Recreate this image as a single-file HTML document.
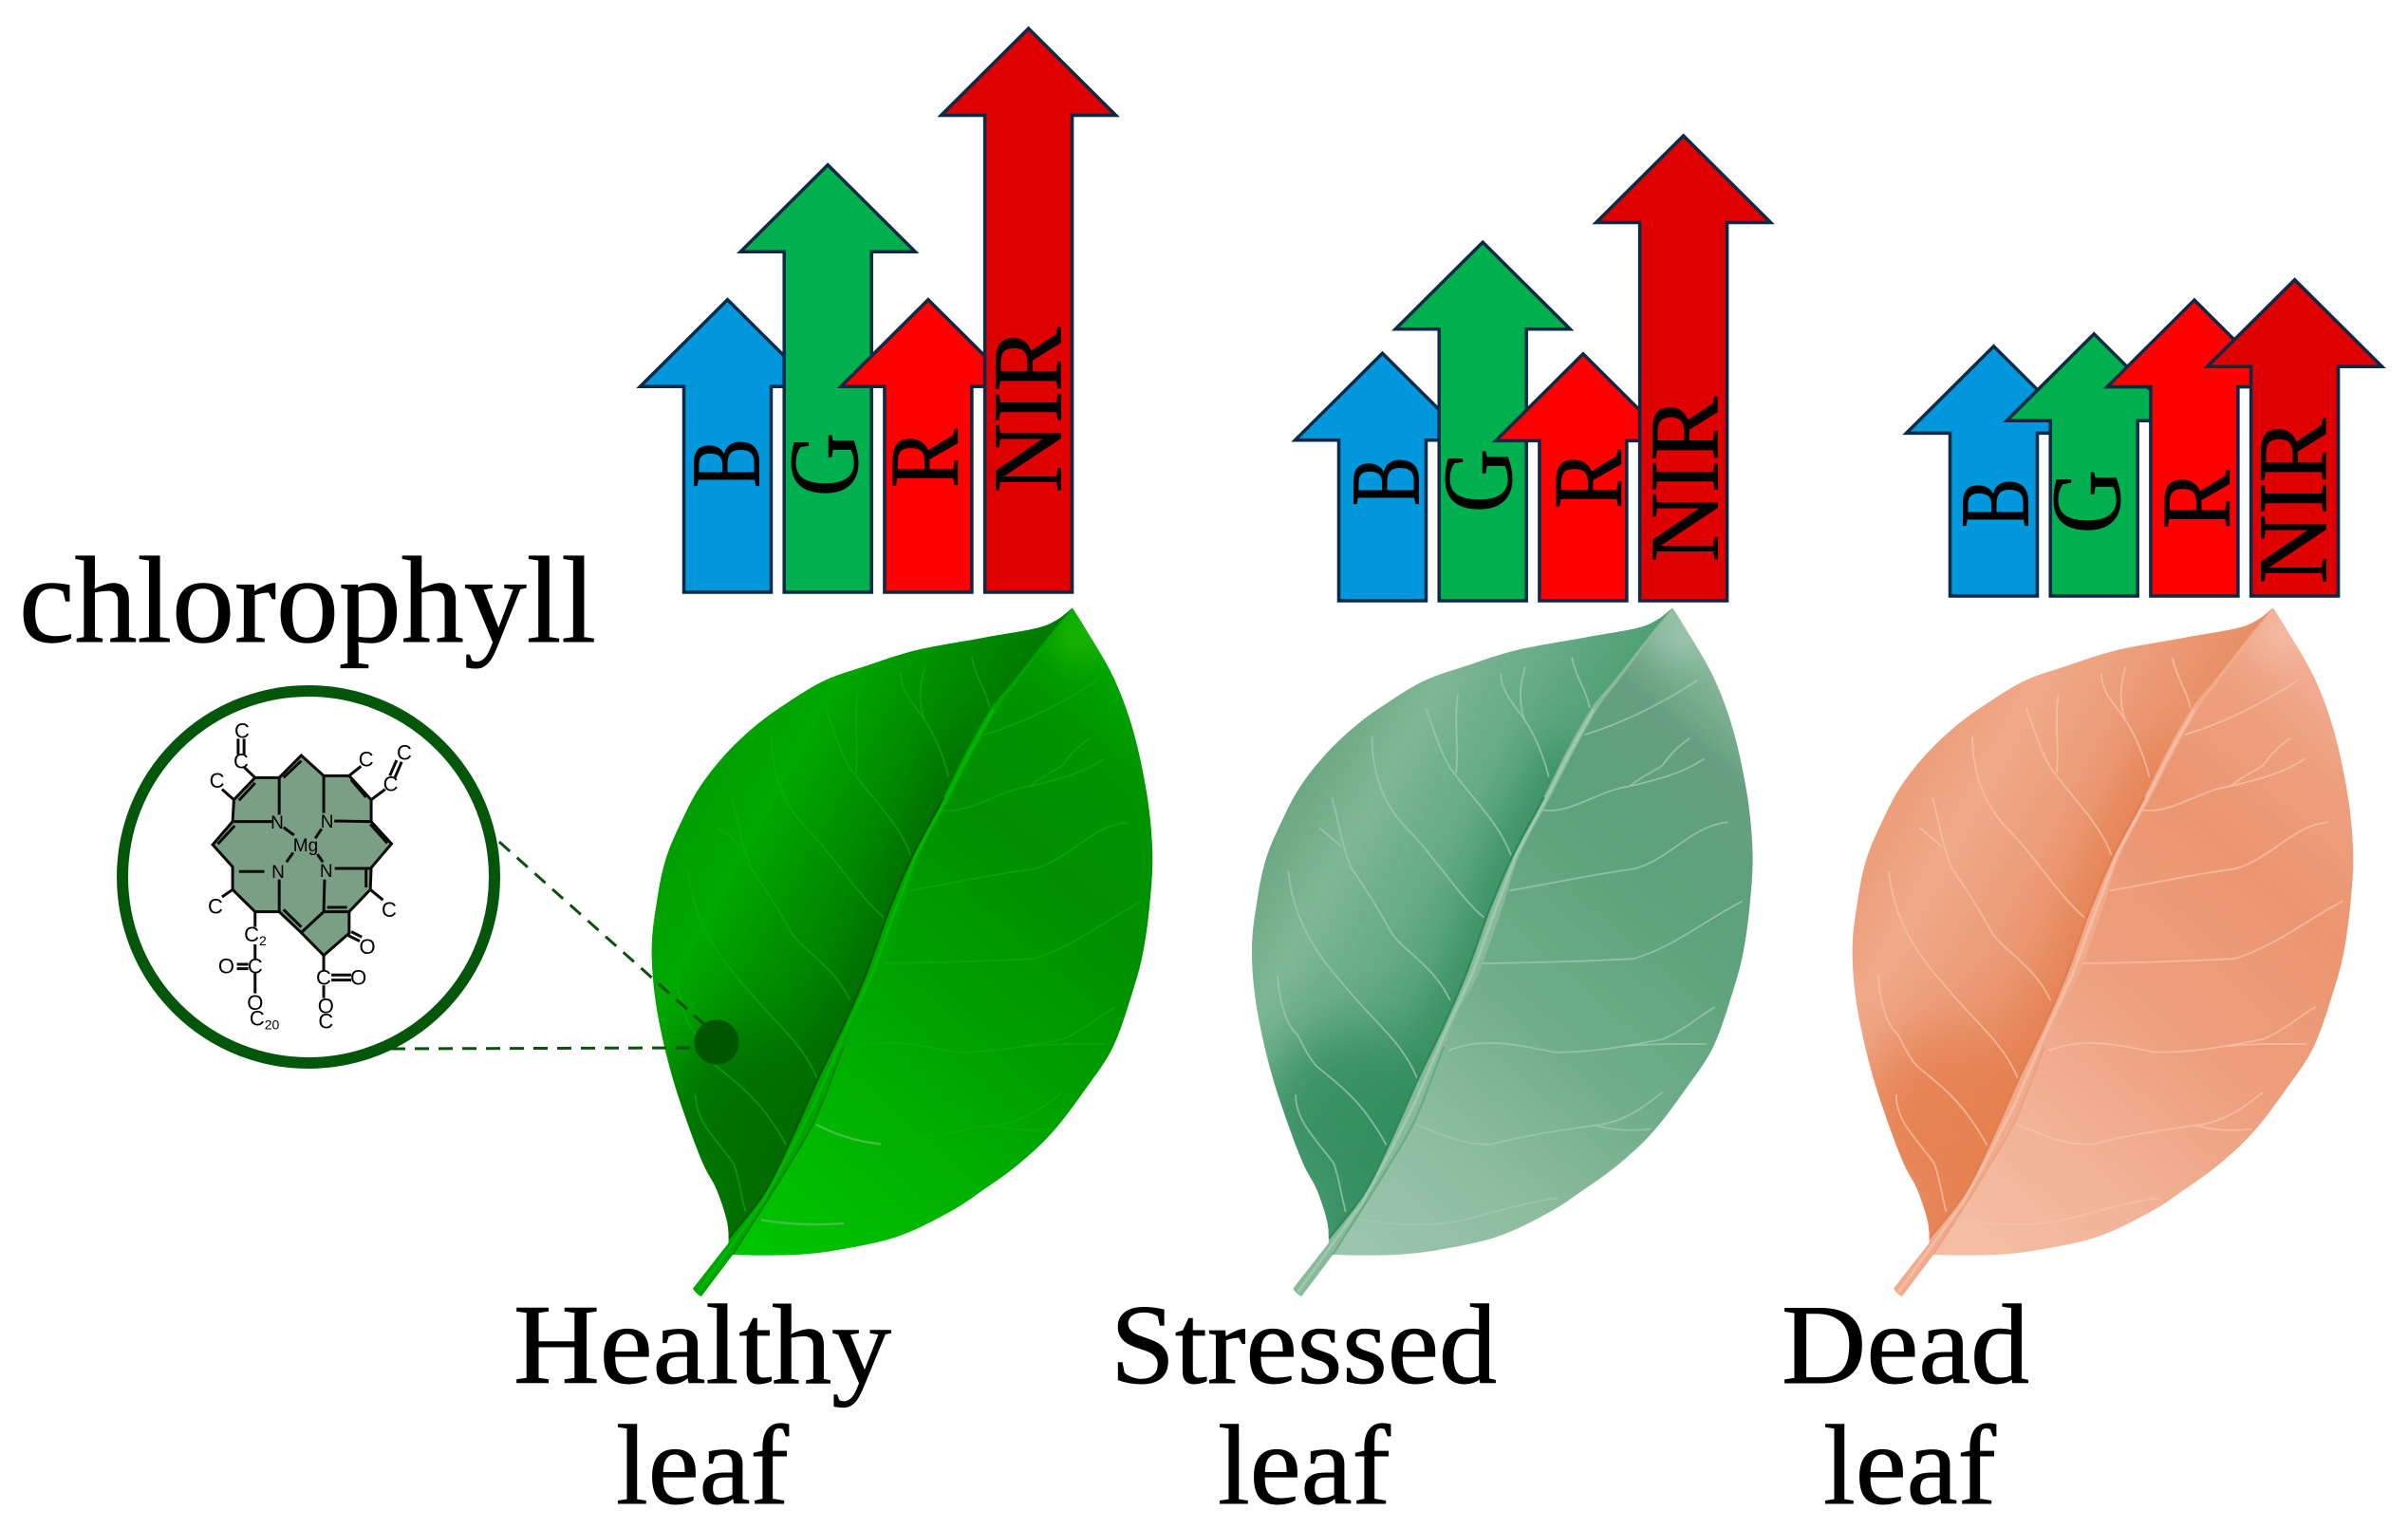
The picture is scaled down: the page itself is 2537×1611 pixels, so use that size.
<!DOCTYPE html>
<html lang="en">
<head>
<meta charset="utf-8">
<title>Leaf reflectance diagram</title>
<style>
html,body{margin:0;padding:0;background:#fff;}
svg{display:block;}
.serif{font-family:"Liberation Serif",serif;fill:#000;stroke:#000;stroke-width:.9px;}
.mol{font-family:"Liberation Sans",sans-serif;font-size:22px;text-anchor:middle;fill:#000;}
.mol-n{font-size:19px;}
.vein,.line{vector-effect:non-scaling-stroke;fill:none;}
</style>
</head>
<body>
<svg id="figure" xmlns="http://www.w3.org/2000/svg" width="2537" height="1611" viewBox="0 0 2537 1611">
<defs>
  <path id="leaf-outline" d="M1228 42 C1221 46 1203 60.5 1186 68 C1169 75.5 1159.5 80.5 1126 87 C1092.5 93.5 1039 99 985 107 C931 115 854.5 124 800 134 C745.5 144 700 158 658 169 C616 180 582 187 546 200 C510 213 475 232 444 248 C413 264 389 277 361 295 C333 313 304 334 277 357 C250 380 223 406.5 201 433 C179 459.5 162 489.5 146 516 C130 542.5 117 565.5 107 592 C97 618.5 91 644 85 675 C79 706 71 740 70 778 C69 816 73 858 81 901 C89 944 104 996 118 1038 C132 1080 149 1119 165 1155 C181 1191 198 1227 212 1252 C226 1277 237 1285 248 1306 C259 1327 271.5 1356.5 277 1376 C282.5 1395.5 281 1413 281 1423 L183 1522 Q192 1534 206 1539 L293 1448 C323 1450 420 1450.3 473 1448 C526 1445.7 564.3 1440.8 611 1434 C657.7 1427.2 706.3 1420 753 1407 C799.7 1394 852.3 1371.8 891 1355 C929.7 1338.2 953.7 1323.2 985 1306 C1016.3 1288.8 1047.7 1272.7 1079 1252 C1110.3 1231.3 1142 1209.5 1173 1182 C1204 1154.5 1237.2 1118 1265 1087 C1292.8 1056 1318.3 1031.7 1340 996 C1361.7 960.3 1381 908.3 1395 873 C1409 837.7 1416.2 817 1424 784 C1431.8 751 1438 710.5 1442 675 C1446 639.5 1449.5 608.8 1448 571 C1446.5 533.2 1441.8 491.7 1433 448 C1424.2 404.3 1410.5 351.7 1395 309 C1379.5 266.3 1361.7 228.7 1340 192 C1318.3 155.3 1283.7 114 1265 89 C1246.3 64 1234 50 1228 42 Z"/>
  <path id="leaf-left" d="M1228 42 C1218 51.5 1195 72.3 1168 99 C1141 125.7 1092.5 175 1065 202 C1037.5 229 1024 237 1003 262 C982 287 959.7 319 938 351 C916.3 383 897.8 416.2 873 454 C848.2 491.8 813.8 537.5 789 578 C764.2 618.5 745.8 653.3 724 697 C702.2 740.7 679 798 658 840 C637 882 620.5 910.2 598 949 C575.5 987.8 547 1031.7 523 1073 C499 1114.3 477 1157 453 1197 C429 1237 407.7 1278 379 1314 C350.3 1350 297 1397 281 1413 L0 1413 L0 0 L1228 0 Z"/>
  <clipPath id="leaf-clip"><use href="#leaf-outline"/></clipPath>
  <clipPath id="left-clip"><use href="#leaf-left"/></clipPath>
  <filter id="soft" filterUnits="userSpaceOnUse" x="-300" y="-300" width="2200" height="2200"><feGaussianBlur stdDeviation="48 38"/></filter>
  <filter id="softer" filterUnits="userSpaceOnUse" x="-300" y="-300" width="2200" height="2200"><feGaussianBlur stdDeviation="80 62"/></filter>
  <path id="rib-shadow" fill="none" stroke-width="140" d="M287 1430 L374 1335 L446 1231 L521 1114 L598 972 L675 840 L741 697 L798 578 L882 454 L946 354"/>
  <path id="midrib" d="M1228 42 C1218 51.5 1195 72.3 1168 99 C1141 125.7 1092.5 175 1065 202 C1037.5 229 1024 237 1003 262 C982 287 959.7 319 938 351 C916.3 383 897.8 416.2 873 454 C848.2 491.8 813.8 537.5 789 578 C764.2 618.5 745.8 653.3 724 697 C702.2 740.7 679 798 658 840 C637 882 620.5 910.2 598 949 C575.5 987.8 547 1031.7 523 1073 C499 1114.3 477 1157 453 1197 C429 1237 407.7 1278 379 1314 C350.3 1350 297 1397 281 1413 L183 1522 Q192 1534 206 1539 L293 1448 C305 1432 343.7 1385.5 368 1355 C392.3 1324.5 414 1298.3 439 1265 C464 1231.7 492.5 1199.8 519 1155 C545.5 1110.2 578 1036 598 996 C618 956 624.3 940 640 914 C655.7 888 672.3 876 692 840 C711.7 804 739 740.7 758 697 C777 653.3 785 618.5 807 578 C829 537.5 866.5 490.8 891 454 C915.5 417.2 932.7 388.7 954 357 C975.3 325.3 999 289 1019 264 C1039 239 1048 233.5 1074 206 C1100 178.5 1150.3 126.3 1176 99 C1201.7 71.7 1219 52 1228 42 Z"/>
  <path id="midrib-edge" class="vein" stroke-width="2.5" d="M873 454 C848.2 491.8 813.8 537.5 789 578 C764.2 618.5 745.8 653.3 724 697 C702.2 740.7 679 798 658 840 C637 882 620.5 910.2 598 949 C575.5 987.8 547 1031.7 523 1073 C499 1114.3 477 1157 453 1197 C429 1237 407.7 1278 379 1314 C350.3 1350 297 1397 281 1413"/>
  <path id="midrib-edge-right" class="vein" stroke-width="2" d="M293 1448 C305 1432 343.7 1385.5 368 1355 C392.3 1324.5 414 1298.3 439 1265 C464 1231.7 492.5 1199.8 519 1155 C545.5 1110.2 578 1036 598 996"/>
  <path id="midrib-light" class="vein" stroke-width="3" stroke-linejoin="round" d="M196 1530 L287 1430 L374 1335 L446 1231 L521 1114 L598 972 L675 840 L741 697 L798 578 L882 454 L946 354 L1011 263"/>
  <g id="veins" class="vein" stroke-width="1.8" fill="none">
    <path class="vein" d="M950 150 C965 200 990 220 1000 260"/>
    <path class="vein" d="M755 185 C755 225 790 250 820 285 C850 320 875 370 887 410"/>
    <path class="vein" d="M822 170 C805 215 805 250 820 285"/>
    <path class="vein" d="M548 260 C580 330 600 380 630 405 C680 460 750 510 783 580"/>
    <path class="vein" d="M637 230 C625 290 640 340 632 400"/>
    <path class="vein" d="M400 320 C400 400 430 470 500 525 C570 580 640 670 708 715"/>
    <path class="vein" d="M290 455 C310 510 320 570 345 610 C390 660 420 700 455 750 C490 790 570 820 615 895"/>
    <path class="vein" d="M255 520 L315 560"/>
    <path class="vein" d="M170 615 C180 700 230 780 310 850 C400 940 480 980 525 1065"/>
    <path class="vein" d="M140 840 C145 900 165 950 195 970 C215 1000 230 1025 250 1040 C310 1080 370 1110 440 1210"/>
    <path class="vein" d="M190 1100 C190 1160 250 1200 295 1250 C310 1280 315 1320 328 1355"/>
    <path class="vein" d="M985 318 C1080 295 1180 260 1295 200"/>
    <path class="vein" d="M870 482 C950 490 1020 440 1110 430 C1190 415 1260 400 1315 370"/>
    <path class="vein" d="M1110 430 C1140 410 1170 400 1200 385 C1230 350 1260 335 1275 325"/>
    <path class="vein" d="M778 657 C900 640 1020 620 1120 610 C1220 590 1280 515 1380 508"/>
    <path class="vein" d="M700 815 C800 815 1000 810 1120 805 C1230 780 1320 720 1420 680"/>
    <path class="vein" d="M610 1005 C700 975 790 990 900 1008 C1000 1010 1100 995 1200 980 C1260 960 1300 930 1345 910"/>
    <path class="vein" d="M1100 995 C1160 990 1240 990 1320 990"/>
    <path class="vein" d="M522 1165 C600 1190 650 1210 730 1208 C820 1190 900 1180 1015 1167 C1100 1160 1160 1120 1200 1095"/>
    <path class="vein" d="M1015 1167 C1060 1178 1120 1180 1170 1175"/>
    <path class="vein" d="M370 1372 C450 1385 550 1385 620 1378 C730 1360 810 1335 915 1325"/>
  </g>

  <linearGradient id="h-right" gradientUnits="userSpaceOnUse" x1="330" y1="1400" x2="1250" y2="80">
    <stop offset="0" stop-color="#00c400"/><stop offset=".2" stop-color="#00b600"/><stop offset=".45" stop-color="#00a000"/><stop offset=".7" stop-color="#008f00"/><stop offset=".88" stop-color="#009400"/><stop offset="1" stop-color="#00a800"/>
  </linearGradient>
  <linearGradient id="h-left" gradientUnits="userSpaceOnUse" x1="700" y1="790" x2="190" y2="438">
    <stop offset="0" stop-color="#007800"/><stop offset=".35" stop-color="#008e00"/><stop offset=".7" stop-color="#00a800"/><stop offset="1" stop-color="#009e00"/>
  </linearGradient>
  <linearGradient id="s-right" gradientUnits="userSpaceOnUse" x1="330" y1="1400" x2="1250" y2="80">
    <stop offset="0" stop-color="#9bc5ac"/><stop offset=".2" stop-color="#8dbc9f"/><stop offset=".45" stop-color="#6dac88"/><stop offset=".7" stop-color="#5ca27b"/><stop offset=".88" stop-color="#659f7f"/><stop offset="1" stop-color="#8dbc9f"/>
  </linearGradient>
  <linearGradient id="s-left" gradientUnits="userSpaceOnUse" x1="700" y1="790" x2="190" y2="438">
    <stop offset="0" stop-color="#4f9f74"/><stop offset=".35" stop-color="#66ab86"/><stop offset=".7" stop-color="#7fb795"/><stop offset="1" stop-color="#6ba782"/>
  </linearGradient>
  <linearGradient id="d-right" gradientUnits="userSpaceOnUse" x1="330" y1="1400" x2="1250" y2="80">
    <stop offset="0" stop-color="#f4bea5"/><stop offset=".2" stop-color="#f2b397"/><stop offset=".45" stop-color="#ee9f7e"/><stop offset=".7" stop-color="#eb9670"/><stop offset=".88" stop-color="#ee9f7e"/><stop offset="1" stop-color="#f2b095"/>
  </linearGradient>
  <linearGradient id="d-left" gradientUnits="userSpaceOnUse" x1="700" y1="790" x2="190" y2="438">
    <stop offset="0" stop-color="#e88e64"/><stop offset=".35" stop-color="#ec9c78"/><stop offset=".7" stop-color="#f0aa8a"/><stop offset="1" stop-color="#ec9c78"/>
  </linearGradient>
</defs>

<rect width="2537" height="1611" fill="#ffffff"/>

<!-- Healthy leaf -->
<g transform="translate(660,620) scale(.3827,.4847)">
  <use href="#leaf-outline" fill="url(#h-right)"/>
  <g clip-path="url(#leaf-clip)">
    <ellipse cx="1245" cy="105" rx="55" ry="45" fill="#38c000" opacity=".85" filter="url(#soft)"/>
    <g clip-path="url(#left-clip)">
      <use href="#leaf-left" fill="url(#h-left)"/>
      <use href="#rib-shadow" stroke="#006a00" opacity=".55" filter="url(#soft)"/>
      <ellipse cx="360" cy="1150" rx="270" ry="190" fill="#006a00" opacity=".75" filter="url(#softer)"/>
    </g>
    <use href="#veins" stroke="#12ac12" stroke-opacity=".6"/>
    <path class="vein" d="M522 1165 C570 1185 620 1200 700 1208 M370 1372 C430 1382 520 1385 600 1380" stroke="#55c655" stroke-width="2.4" stroke-opacity=".75"/>
    <use href="#midrib" fill="#00a400"/>
    <use href="#midrib-light" stroke="#00ba00" stroke-opacity=".8"/>
    <use href="#midrib-edge" stroke="#005c00"/>
    <use href="#midrib-edge-right" stroke="#007a00" stroke-opacity=".7"/>
  </g>
</g>

<!-- Stressed leaf -->
<g transform="translate(1292.3,620) scale(.3827,.4847)">
  <use href="#leaf-outline" fill="url(#s-right)"/>
  <g clip-path="url(#leaf-clip)">
    <ellipse cx="1245" cy="105" rx="55" ry="45" fill="#a8ceb8" opacity=".85" filter="url(#soft)"/>
    <g clip-path="url(#left-clip)">
      <use href="#leaf-left" fill="url(#s-left)"/>
      <use href="#rib-shadow" stroke="#338d5e" opacity=".65" filter="url(#soft)"/>
      <ellipse cx="360" cy="1150" rx="270" ry="190" fill="#338d5e" opacity=".85" filter="url(#softer)"/>
    </g>
    <use href="#veins" stroke="#a0c9b0" stroke-opacity=".75"/>
    <use href="#midrib" fill="#86ba99"/>
    <use href="#midrib-light" stroke="#a4cdb4" stroke-opacity=".8"/>
    <use href="#midrib-edge" stroke="#2f8a5a"/>
    <use href="#midrib-edge-right" stroke="#4f9f74" stroke-opacity=".6"/>
  </g>
</g>

<!-- Dead leaf -->
<g transform="translate(1925,620) scale(.3827,.4847)">
  <use href="#leaf-outline" fill="url(#d-right)"/>
  <g clip-path="url(#leaf-clip)">
    <ellipse cx="1245" cy="105" rx="55" ry="45" fill="#f6c4ae" opacity=".85" filter="url(#soft)"/>
    <g clip-path="url(#left-clip)">
      <use href="#leaf-left" fill="url(#d-left)"/>
      <use href="#rib-shadow" stroke="#e58050" opacity=".65" filter="url(#soft)"/>
      <ellipse cx="360" cy="1150" rx="270" ry="190" fill="#e58050" opacity=".85" filter="url(#softer)"/>
    </g>
    <use href="#veins" stroke="#f7c3a8" stroke-opacity=".75"/>
    <use href="#midrib" fill="#f1ab8c"/>
    <use href="#midrib-light" stroke="#f6c3aa" stroke-opacity=".8"/>
    <use href="#midrib-edge" stroke="#e08050"/>
    <use href="#midrib-edge-right" stroke="#e69a75" stroke-opacity=".6"/>
  </g>
</g>

<!-- Chlorophyll inset -->
<text class="serif" x="20" y="676" font-size="130" textLength="608" lengthAdjust="spacingAndGlyphs">chlorophyll</text>
<ellipse cx="325" cy="924" rx="196" ry="196" fill="#ffffff" stroke="#04570a" stroke-width="12"/>
<line x1="526" y1="887" x2="745" y2="1082" stroke="#0b500f" stroke-width="3" stroke-dasharray="15 10"/>
<line x1="412" y1="1105" x2="735" y2="1104" stroke="#0b500f" stroke-width="3" stroke-dasharray="15 10"/>
<circle cx="755" cy="1098" r="23.5" fill="#005500"/>

<g>
  <g transform="translate(100,700) scale(.4464,.3333)" stroke="#0a0a0a" stroke-width="3" fill="none">
    <path class="line" style="fill:#7a9f85" d="M487 288 L540 352 L600 352 L652 428 L652 497 L700 567 L652 643 L650 712 L600 782 L600 850 L540 920 L487 848 L435 782 L378 782 L325 712 L325 640 L278 570 L325 497 L328 428 L378 358 L435 358 Z"/>
    <path class="line" d="M435 358V475 M540 352V470 M328 497H418 M565 495L652 497 M566 645H650 M435 680V782 M542 680L540 782 M540 782H600 M540 782L487 848 M445 515L470 540 M535 520L520 550 M468 595L452 625 M525 600L538 625"/>
    <path class="line" d="M445 358L487 305 M340 430L378 375 M605 365L640 420 M290 568L330 510 M650 505L690 565 M340 655H400 M640 650V705 M548 768H595 M445 775L487 830"/>
    <path class="line" d="M378 358L352 325 M338 285V235 M352 285V235 M328 428L300 395 M600 352L628 322 M652 428L685 395 M696 352L712 303 M708 358L724 308 M650 712L680 745 M325 712L300 735"/>
    <path class="line" d="M378 782V830 M378 885V930 M335 948H362 M335 962H362 M378 975V1040 M540 920V968 M558 982H605 M558 998H605 M540 1015V1055 M595 855L625 875 M605 845L630 862"/>
  </g>
  <text class="mol" x="254" y="809.5">C</text>
  <text class="mol" x="255" y="777.5">C</text>
  <text class="mol" x="228.6" y="830">C</text>
  <text class="mol" x="385.7" y="807.5">C</text>
  <text class="mol" x="411.6" y="833.5">C</text>
  <text class="mol" x="426" y="800.5">C</text>
  <text class="mol mol-n" x="292" y="873">N</text>
  <text class="mol mol-n" x="344.6" y="872">N</text>
  <text class="mol mol-n" x="293" y="925">N</text>
  <text class="mol mol-n" x="343.8" y="924">N</text>
  <text class="mol mol-n" x="322" y="897">Mg</text>
  <text class="mol" x="227" y="962.5">C</text>
  <text class="mol" x="410" y="965.8">C</text>
  <text class="mol" x="269" y="992">C<tspan font-size="14" dy="4">2</tspan></text>
  <text class="mol" x="238.4" y="1025.5">O</text>
  <text class="mol" x="268.8" y="1025.5">C</text>
  <text class="mol" x="268.8" y="1064">O</text>
  <text class="mol" x="278.6" y="1080.5">C<tspan font-size="14" dy="4">20</tspan></text>
  <text class="mol" x="341" y="1037.5">C</text>
  <text class="mol" x="377.7" y="1037.5">O</text>
  <text class="mol" x="343.3" y="1067.5">O</text>
  <text class="mol" x="343.3" y="1083.5">C</text>
  <text class="mol" x="387" y="1005">O</text>
</g>

<!-- Captions -->
<text class="serif" x="541" y="1457" font-size="120" textLength="398" lengthAdjust="spacingAndGlyphs">Healthy</text>
<text class="serif" x="649" y="1584" font-size="120" textLength="182" lengthAdjust="spacingAndGlyphs">leaf</text>
<text class="serif" x="1170" y="1457" font-size="120" textLength="407" lengthAdjust="spacingAndGlyphs">Stressed</text>
<text class="serif" x="1283" y="1584" font-size="120" textLength="182" lengthAdjust="spacingAndGlyphs">leaf</text>
<text class="serif" x="1877" y="1457" font-size="120" textLength="261" lengthAdjust="spacingAndGlyphs">Dead</text>
<text class="serif" x="1921" y="1584" font-size="120" textLength="182" lengthAdjust="spacingAndGlyphs">leaf</text>

<g id="arrows-layer"></g>
</svg>

<script>
// Relative reflectance per spectral band (NIR of healthy leaf = 100).
const bandLabels = ['B', 'G', 'R', 'NIR'];
const healthyValues = [51.9, 75.8, 51.9, 100];
const stressedValues = [43.9, 63.6, 43.8, 82.5];
const deadValues = [44.3, 46.5, 52.5, 56.1];

const NS = 'http://www.w3.org/2000/svg';
const layer = document.getElementById('arrows-layer');
const bandColors = ['#0097dc', '#00b04f', '#ff0000', '#df0000'];
const labelLengths = [52, 67, 62, 174];
const PX_PER_UNIT = 5.94;
const BAND_STEP = 105.7;
const SHAFT_HALF = 46;
const HEAD_HALF = 92;
const HEAD_HEIGHT = 91.5;

function xScale(originX, bandIndex) {
  return originX + bandIndex * BAND_STEP;
}
function yScale(baseY, value) {
  return baseY - value * PX_PER_UNIT;
}

function drawGroup(values, originX, baseY, labelLifts, labelShifts) {
  values.forEach(function (value, i) {
    const cx = xScale(originX, i);
    const tip = yScale(baseY, value);
    const shoulder = tip + HEAD_HEIGHT;
    const arrow = document.createElementNS(NS, 'polygon');
    arrow.setAttribute('points', [
      [cx - SHAFT_HALF, baseY], [cx - SHAFT_HALF, shoulder], [cx - HEAD_HALF, shoulder],
      [cx, tip], [cx + HEAD_HALF, shoulder], [cx + SHAFT_HALF, shoulder], [cx + SHAFT_HALF, baseY]
    ].map(function (p) { return p.join(','); }).join(' '));
    arrow.setAttribute('fill', bandColors[i]);
    arrow.setAttribute('stroke', '#0c2a45');
    arrow.setAttribute('stroke-width', '3.5');
    
    
    layer.appendChild(arrow);

    const label = document.createElementNS(NS, 'text');
    label.textContent = bandLabels[i];
    label.setAttribute('class', 'serif');
    label.setAttribute('font-size', '104');
    label.setAttribute('textLength', labelLengths[i]);
    label.setAttribute('lengthAdjust', 'spacingAndGlyphs');
    label.setAttribute('transform', 'translate(' + (cx + labelShifts[i]) + ',' + (baseY - labelLifts[i]) + ') rotate(-90)');
    
    
    layer.appendChild(label);
  });
}

drawGroup(healthyValues, 766.5, 624, [110, 101, 110, 105], [33, 31, 31, 34]);
drawGroup(stressedValues, 1456.5, 633, [100, 93, 97, 41], [38, 30, 40, 36]);
drawGroup(deadValues, 2100.5, 628, [72, 66, 71, 13], [36, 27, 37, 33]);
</script>
</body>
</html>
